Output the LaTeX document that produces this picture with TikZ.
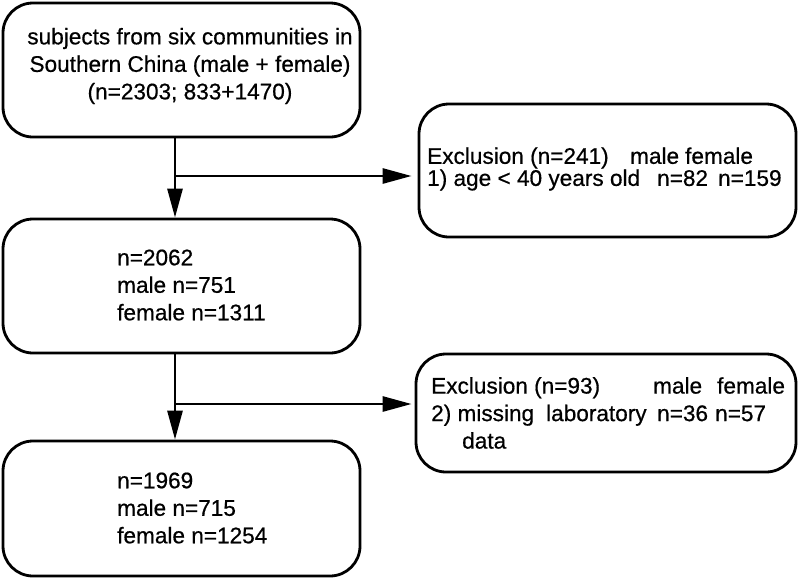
\documentclass[tikz,border=0pt]{standalone}
\usepackage{fontspec}
\setmainfont[FakeBold=0.6]{Liberation Sans}
\usetikzlibrary{arrows.meta}

\begin{document}
\begin{tikzpicture}[x=1pt,y=-1pt,
	caja/.style={draw,line width=2.8pt,rounded corners=30pt,inner sep=0pt},
	texto/.style={inner sep=0pt,font=\fontsize{22.6}{27.5}\selectfont},
	flecha/.style={line width=2.8pt,-{Triangle[length=29pt,width=15pt]}}]
	\useasboundingbox (0,0) rectangle (800,579);

	% Cajas
	\node[caja,minimum width=357pt,minimum height=134pt] (total) at (181.5,70) {};
	\node[caja,minimum width=357pt,minimum height=134pt] (paso1) at (181.5,286) {};
	\node[caja,minimum width=357pt,minimum height=135pt] (final) at (181.5,508.5) {};
	\node[caja,minimum width=377pt,minimum height=133pt] (excl1) at (607.5,170.5) {};
	\node[caja,minimum width=380pt,minimum height=118pt] (excl2) at (606,413) {};

	% Textos
	\node[texto,align=center] (totalT) at (190,66) {subjects from six communities in\\Southern China (male + female)\\(n=2303; 833+1470)};
	\node[texto,align=left,anchor=west] (paso1T) at (117,285) {n=2062\\male n=751\\female n=1311};
	\node[texto,align=left,anchor=west] (finalT) at (117,508) {n=1969\\male n=715\\female n=1254};
	\node[texto,align=left,anchor=west,font=\fontsize{22.6}{20}\selectfont] (excl1T) at (427,169)
		{\makebox[203pt][l]{Exclusion (n=241)}\makebox[55pt][l]{male}female\\
		 \makebox[230pt][l]{1) age < 40 years old}\makebox[61pt][l]{n=82}n=159};
	\node[texto,align=left,anchor=west] (excl2T) at (431,413)
		{\makebox[222pt][l]{Exclusion (n=93)}\makebox[64pt][l]{male}female\\
		 \makebox[226pt][l]{2) missing\hspace{12pt}laboratory}\makebox[58pt][l]{n=36}n=57\\
		 \hspace*{31pt}data};

	% Flechas
	\coordinate (eje) at (175,0);
	\coordinate (r1) at (175,176);
	\coordinate (r2) at (175,404);
	\draw[flecha] (total.south -| eje) -- (paso1.north -| eje);
	\draw[flecha] (paso1.south -| eje) -- (final.north -| eje);
	\draw[flecha,shorten >=6pt] (r1) -- (excl1.west |- r1);
	\draw[flecha,shorten >=3pt] (r2) -- (excl2.west |- r2);

\end{tikzpicture}
\end{document}
